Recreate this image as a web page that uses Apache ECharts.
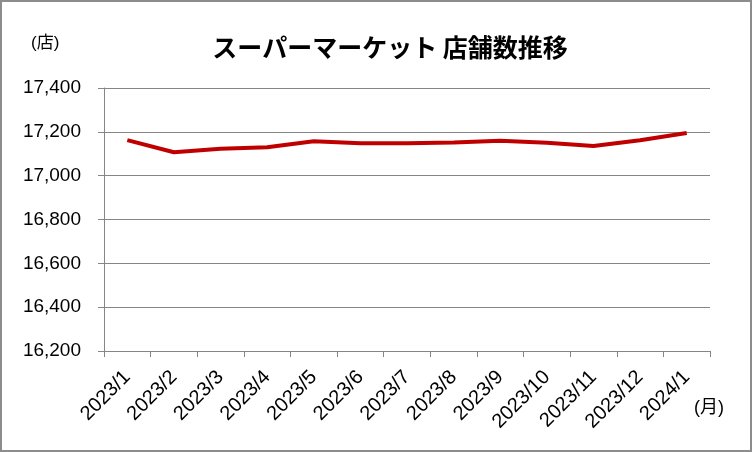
<!DOCTYPE html>
<html><head><meta charset="utf-8">
<script src="https://cdn.jsdelivr.net/npm/echarts@6/dist/echarts.min.js"></script>
<style>html,body{margin:0;padding:0;background:#fff}#c{width:752px;height:452px;box-sizing:border-box;border:2px solid #8c8c8c}</style>
</head><body><div id="c"></div>
<script>
const categories = ['2023/1','2023/2','2023/3','2023/4','2023/5','2023/6','2023/7','2023/8','2023/9','2023/10','2023/11','2023/12','2024/1'];
const storeCounts = [17162,17107,17123,17130,17157,17148,17148,17151,17159,17150,17135,17162,17195];
const yMin = 16200, yMax = 17400, yStep = 200;
const titleText = 'スーパーマーケット 店舗数推移';
const yUnit = '(店)';
const xUnit = '(月)';
const FONT = '"Liberation Sans", Arial, "Noto Sans CJK JP", sans-serif';

const chart = echarts.init(document.getElementById('c'), null, {renderer:'canvas'});
chart.setOption({
  backgroundColor:'#fff',
  animation:false,
  title:{text:titleText,left:383,textAlign:'center',top:28,
    textStyle:{fontFamily:'"Noto Sans CJK JP", sans-serif',fontSize:25,fontWeight:'bold',color:'#000'}},
  graphic:[
    {type:'text',left:29,top:33,style:{text:yUnit,fontFamily:FONT,fontSize:17,fill:'#000'}},
    {type:'text',left:692,top:397,style:{text:xUnit,fontFamily:FONT,fontSize:18,fill:'#000'}}
  ],
  grid:{left:102,right:40,top:86,bottom:99,containLabel:false},
  xAxis:{type:'category',data:categories,boundaryGap:true,
    axisLine:{lineStyle:{color:'#868686',width:1}},
    axisTick:{show:true,length:6,lineStyle:{color:'#868686'}},
    axisLabel:{rotate:45,margin:23,interval:0,fontFamily:FONT,fontSize:20,color:'#000'}},
  yAxis:{type:'value',min:yMin,max:yMax,interval:yStep,
    axisLine:{show:true,lineStyle:{color:'#868686',width:1}},
    axisTick:{show:true,length:6,lineStyle:{color:'#868686'}},
    splitLine:{lineStyle:{color:'#868686',width:1}},
    axisLabel:{margin:23,fontFamily:FONT,fontSize:19,color:'#000',
      formatter:v=>v.toLocaleString('en-US')}},
  series:[{type:'line',data:storeCounts,symbol:'none',
    lineStyle:{color:'#C00000',width:4,join:'round'}}]
});
</script></body></html>
